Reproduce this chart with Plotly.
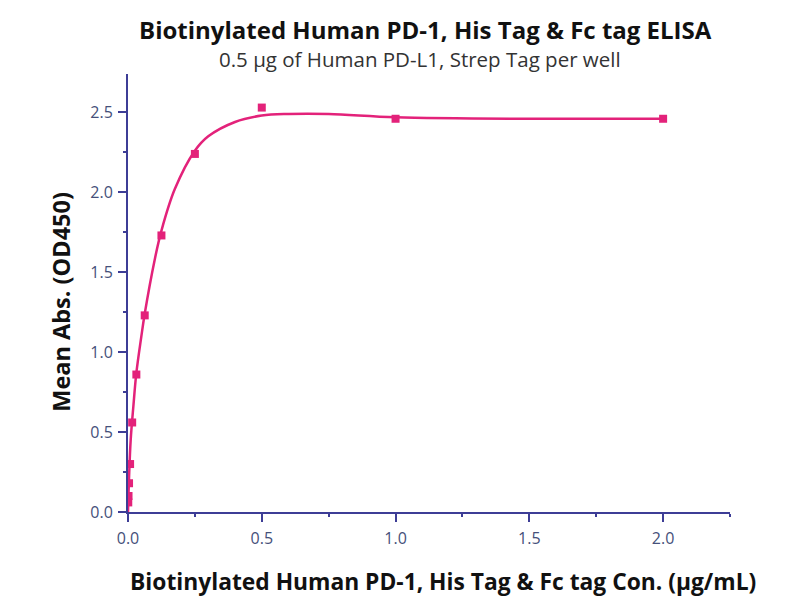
import plotly.graph_objects as go

# measured points (µg/mL, OD450)
conc = [2.0, 1.0, 0.5, 0.25, 0.125, 0.0625, 0.03125, 0.0156, 0.0078, 0.0039, 0.00195, 0.00098]
od450 = [2.46, 2.46, 2.53, 2.24, 1.73, 1.23, 0.86, 0.56, 0.30, 0.18, 0.10, 0.06]

# fitted curve
fit_x = [0.0, 0.004, 0.01, 0.02, 0.03125, 0.05, 0.0625, 0.1, 0.125, 0.175, 0.25, 0.3, 0.4, 0.5, 0.6, 0.75, 1.0, 1.5, 2.0]
fit_y = [0.0, 0.22, 0.45, 0.66, 0.87, 1.10, 1.24, 1.58, 1.76, 2.02, 2.26, 2.35, 2.44, 2.48, 2.49, 2.49, 2.47, 2.46, 2.46]

pink = '#e3227a'
axis_col = '#3d3d96'
tick_col = '#45507a'
font_fam = 'Open Sans, Lato, sans-serif'

fig = go.Figure()
fig.add_trace(go.Scatter(x=fit_x, y=fit_y, mode='lines', line=dict(color=pink, width=2.5, shape='spline'),
                         hoverinfo='skip'))
fig.add_trace(go.Scatter(x=conc, y=od450, mode='markers',
                         marker=dict(symbol='square', size=8, color=pink)))

axis_common = dict(
    showline=True, linecolor=axis_col, linewidth=2, automargin=False,
    ticks='outside', tickcolor=axis_col, ticklen=8, tickwidth=2,
    showgrid=False, zeroline=False,
    tickfont=dict(family=font_fam, size=16, color=tick_col),
    minor=dict(dtick=0.25, ticks='outside', ticklen=3, tickcolor=axis_col, tickwidth=2),
)

# the page body adds 8px, so the margins are set 8px less on the left / top
fig.update_layout(
    width=800, height=600,
    paper_bgcolor='white', plot_bgcolor='white',
    showlegend=False,
    margin=dict(l=120, r=78, t=66, b=96),
    font=dict(family=font_fam),
    xaxis=dict(range=[0, 2.25], dtick=0.5, tickformat='.1f', ticklabelstandoff=3, **axis_common),
    yaxis=dict(range=[0, 2.74], dtick=0.5, tickformat='.1f', ticklabelstandoff=2, **axis_common),
    annotations=[
        dict(text='<b>Biotinylated Human PD-1, His Tag &amp; Fc tag ELISA</b>', xref='paper', yref='paper',
             x=0.495, y=1.0, yanchor='middle', yshift=45, showarrow=False,
             font=dict(size=24, color='#111111', family=font_fam)),
        dict(text='0.5 µg of Human PD-L1, Strep Tag per well', xref='paper', yref='paper',
             x=0.485, y=1.0, yanchor='middle', yshift=15, showarrow=False,
             font=dict(size=20.5, color='#333333', family=font_fam)),
        dict(text='<b>Biotinylated Human PD-1, His Tag &amp; Fc tag Con. (µg/mL)</b>', xref='paper', yref='paper',
             x=0.523, y=0.0, yanchor='middle', yshift=-69, showarrow=False,
             font=dict(size=22.8, color='#111111', family=font_fam)),
        dict(text='<b>Mean Abs. (OD450)</b>', xref='paper', yref='paper', textangle=-90,
             x=0.0, xanchor='center', xshift=-67, y=0.48, yanchor='middle', showarrow=False,
             font=dict(size=23.5, color='#111111', family=font_fam)),
    ],
)

fig.write_html("out.html")
